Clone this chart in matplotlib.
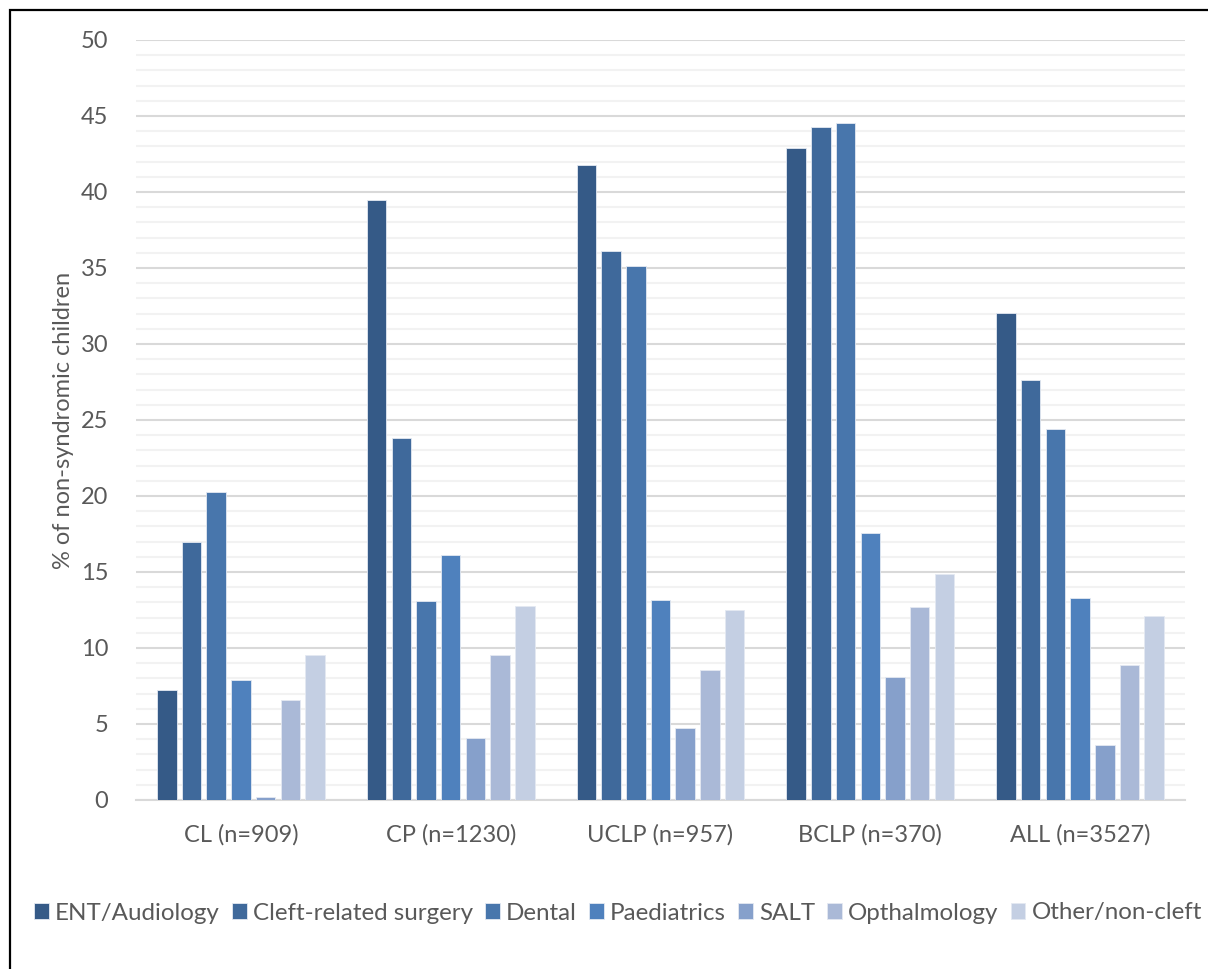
import matplotlib
matplotlib.use("Agg")
import matplotlib.pyplot as plt
import numpy as np
from matplotlib.patches import Rectangle

plt.rcParams['font.family'] = ['Lato', 'DejaVu Sans']

groups = ["CL (n=909)", "CP (n=1230)", "UCLP (n=957)", "BCLP (n=370)", "ALL (n=3527)"]
specialties = ["ENT/Audiology", "Cleft-related surgery", "Dental", "Paediatrics",
               "SALT", "Opthalmology", "Other/non-cleft"]

ent = [7.24, 39.5, 41.8, 42.9, 32.05]
cleft_surgery = [16.95, 23.8, 36.15, 44.3, 27.6]
dental = [20.25, 13.1, 35.1, 44.55, 24.4]
paediatrics = [7.9, 16.15, 13.15, 17.55, 13.3]
salt = [0.22, 4.05, 4.75, 8.1, 3.65]
opthalmology = [6.58, 9.55, 8.55, 12.68, 8.85]
other = [9.56, 12.75, 12.5, 14.85, 12.08]

series = [ent, cleft_surgery, dental, paediatrics, salt, opthalmology, other]
colors = ["#355A87", "#3F699B", "#4876AC", "#4F81BD", "#86A0CB", "#AAB9D7", "#C4CFE3"]

text_color = "#595959"

fig = plt.figure(figsize=(12.08, 9.69), dpi=100)
ax = fig.add_axes([136 / 1208, 1 - 800 / 969, (1185 - 136) / 1208, 760 / 969])

x = np.arange(len(groups))
pitch = 0.1177
width = 0.093
for i, (vals, col, name) in enumerate(zip(series, colors, specialties)):
    ax.bar(x + (i - 3) * pitch, vals, width=width, color=col, label=name,
           edgecolor="#E4E9F2", linewidth=0.6, zorder=3)

ax.set_xlim(-0.5, len(groups) - 0.5)
ax.set_ylim(0, 50)
ax.set_yticks(np.arange(0, 51, 5))
ax.set_yticks(np.arange(0, 51, 1), minor=True)
ax.grid(axis='y', which='major', color="#D9D9D9", linewidth=1.5, zorder=0)
ax.grid(axis='y', which='minor', color="#F2F2F2", linewidth=1.5, zorder=0)
ax.tick_params(axis='y', which='both', length=0, pad=20, labelsize=17, labelcolor=text_color)
ax.tick_params(axis='x', length=0, pad=17, labelsize=17, labelcolor=text_color)
ax.set_xticks(x)
ax.set_xticklabels(groups)
for s in ["top", "right", "left"]:
    ax.spines[s].set_visible(False)
ax.spines["bottom"].set_color("#D9D9D9")
ax.spines["bottom"].set_linewidth(1.5)
ax.set_ylabel("% of non-syndromic children", fontsize=17, color=text_color, labelpad=5)

fig.legend(loc="center", bbox_to_anchor=(618 / 1208, 1 - 913 / 969), ncol=7, frameon=False,
           fontsize=17.4, labelcolor=text_color, handlelength=0.6, handleheight=0.6,
           handletextpad=0.25, columnspacing=0.52, borderaxespad=0)

# outer frame
fig.patches.append(Rectangle((10 / 1208, -0.1), 1.2, 1 - 10 / 969 + 0.1, transform=fig.transFigure,
                             fill=False, edgecolor="black", linewidth=1.6))

fig.savefig("out.png", dpi=100)
